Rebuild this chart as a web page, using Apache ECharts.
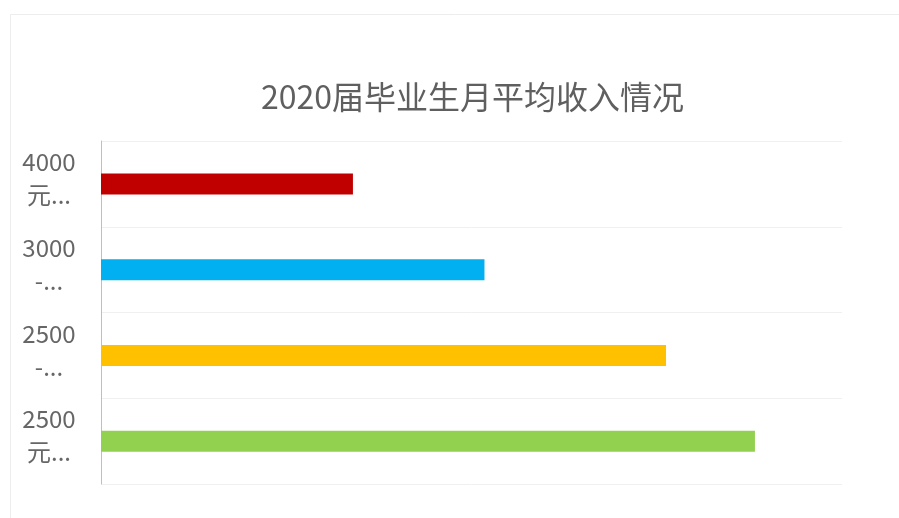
<!DOCTYPE html>
<html>
<head>
<meta charset="utf-8">
<script src="https://cdn.jsdelivr.net/npm/echarts@6/dist/echarts.min.js"></script>
<style>
  html, body { margin: 0; padding: 0; background: #fff; }
  #chart { width: 899px; height: 518px; }
</style>
</head>
<body>
<div id="chart"></div>
<script>
// income bands, top to bottom
const categories = ["4000元以上", "3000-4000元", "2500-3000元", "2500元以下"];
// share of graduates (%)
const values = [13.6, 20.7, 30.5, 35.3];
const barColors = ["#C00000", "#00B0F0", "#FFC000", "#92D050"];

const chart = echarts.init(document.getElementById("chart"));

chart.setOption({
  backgroundColor: "#fff",
  animation: false,
  title: {
    text: "2020届毕业生月平均收入情况",
    left: 256,
    top: 76,
    textStyle: {
      fontFamily: "Noto Sans CJK SC",
      fontSize: 32,
      fontWeight: "normal",
      color: "#5f5f5f",
    },
  },
  grid: {
    left: 101,
    right: 57,
    top: 141,
    bottom: 34,
  },
  xAxis: {
    type: "value",
    min: 0,
    max: 40,
    show: false,
  },
  yAxis: {
    type: "category",
    inverse: true,
    data: categories,
    axisLine: { lineStyle: { color: "#BFBFBF" } },
    axisTick: { show: false },
    splitLine: { show: true, lineStyle: { color: "#F0F0F0" } },
    axisLabel: {
      interval: 0,
      margin: 52,
      align: "center",
      fontFamily: "Noto Sans CJK SC",
      fontSize: 24,
      color: "#666",
      // excel-style wrap + truncate; trailing spacer pushes text up a bit
      formatter: (v) => `{t|${v.slice(0, 4)}}\n{t|${v.slice(4, 5)}...}\n{s| }`,
      rich: {
        t: { fontFamily: "Noto Sans CJK SC", fontSize: 24, lineHeight: 33, color: "#666", align: "center" },
        s: { fontSize: 1, lineHeight: 11 },
      },
    },
  },
  series: [
    {
      type: "bar",
      data: values.map((v, i) => ({ value: v, itemStyle: { color: barColors[i] } })),
      barWidth: 21,
    },
  ],
  graphic: [
    {
      type: "rect",
      shape: { x: 10.5, y: 14.5, width: 900, height: 520 },
      style: { fill: "none", stroke: "#EDEDED", lineWidth: 1 },
      silent: true,
    },
  ],
});
</script>
</body>
</html>
